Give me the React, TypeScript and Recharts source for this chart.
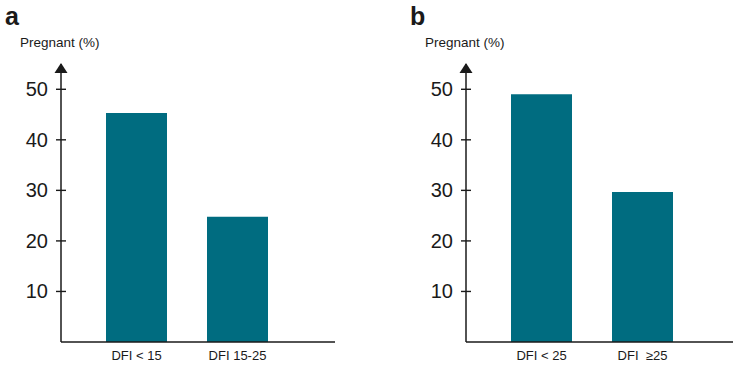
import React from "react";
import { BarChart, Bar, XAxis, YAxis } from "recharts";

// panel a
const groupsA = ["DFI < 15", "DFI 15-25"];
const pregnantA = [45.3, 24.8];
// panel b
const groupsB = ["DFI < 25", "DFI\u00a0\u00a0\u226525"];
const pregnantB = [49, 29.7];
const yTicks = [10, 20, 30, 40, 50];

const BAR = "#006c80";
const INK = "#1a1a1a";
const FONT = '"Liberation Sans", Arial, Helvetica, sans-serif';

const tickSize = 5;
const tickMargin = 8;

// tick mark crosses the axis line, label sits to the left
function YTick(props: any) {
  const { x, y, payload } = props;
  const ax = x + tickSize + tickMargin;
  return (
    <g>
      <line x1={ax - 5} x2={ax + 5} y1={y} y2={y} stroke={INK} strokeWidth={1.4} />
      <text x={x} y={y} dy="0.35em" textAnchor="end" fontSize={20} fill={INK} fontFamily={FONT}>
        {payload.value}
      </text>
    </g>
  );
}

// arrow head on top of the y axis
function Arrow(props: any) {
  const { viewBox } = props;
  if (!viewBox) return null;
  const ax = viewBox.x + viewBox.width;
  const top = viewBox.y - 1;
  return <path d={`M${ax} ${top} L${ax - 6.5} ${top + 10} L${ax + 6.5} ${top + 10} Z`} fill={INK} />;
}

function Panel({ letter, groups, values, left, width, rightPad }: any) {
  const data = groups.map((g: string, i: number) => ({ group: g, value: values[i] }));
  return (
    <div style={{ position: "absolute", left, top: 0, width, height: 366 }}>
      <div style={{ position: "absolute", left: 5, top: 2, fontFamily: FONT, fontWeight: 700, fontSize: 25, color: INK }}>
        {letter}
      </div>
      <div style={{ position: "absolute", left: 20, top: 35, fontFamily: FONT, fontSize: 13.5, color: INK }}>
        Pregnant (%)
      </div>
      <BarChart width={width} height={366} data={data} margin={{ top: 64, right: 0, bottom: 0, left: 0 }}>
        <XAxis
          dataKey="group"
          height={24}
          padding={{ left: 25, right: rightPad }}
          tickLine={false}
          tickSize={0}
          tickMargin={9}
          axisLine={{ stroke: INK, strokeWidth: 1.5 }}
          tick={{ fill: INK, fontSize: 13, fontFamily: FONT }}
        />
        <YAxis
          width={61}
          domain={[0, 55]}
          ticks={yTicks}
          tickLine={false}
          tickSize={tickSize}
          tickMargin={tickMargin}
          axisLine={{ stroke: INK, strokeWidth: 1.5 }}
          tick={<YTick />}
          label={<Arrow />}
        />
        <Bar dataKey="value" fill={BAR} barSize={61} isAnimationActive={false} />
      </BarChart>
    </div>
  );
}

export default function App() {
  return (
    <div style={{ position: "absolute", left: 0, top: 0, width: 733, height: 366, overflow: "hidden", background: "#fff" }}>
      <Panel letter="a" groups={groupsA} values={pregnantA} left={0} width={335} rightPad={47} />
      <Panel letter="b" groups={groupsB} values={pregnantB} left={405} width={328} rightPad={40} />
    </div>
  );
}
